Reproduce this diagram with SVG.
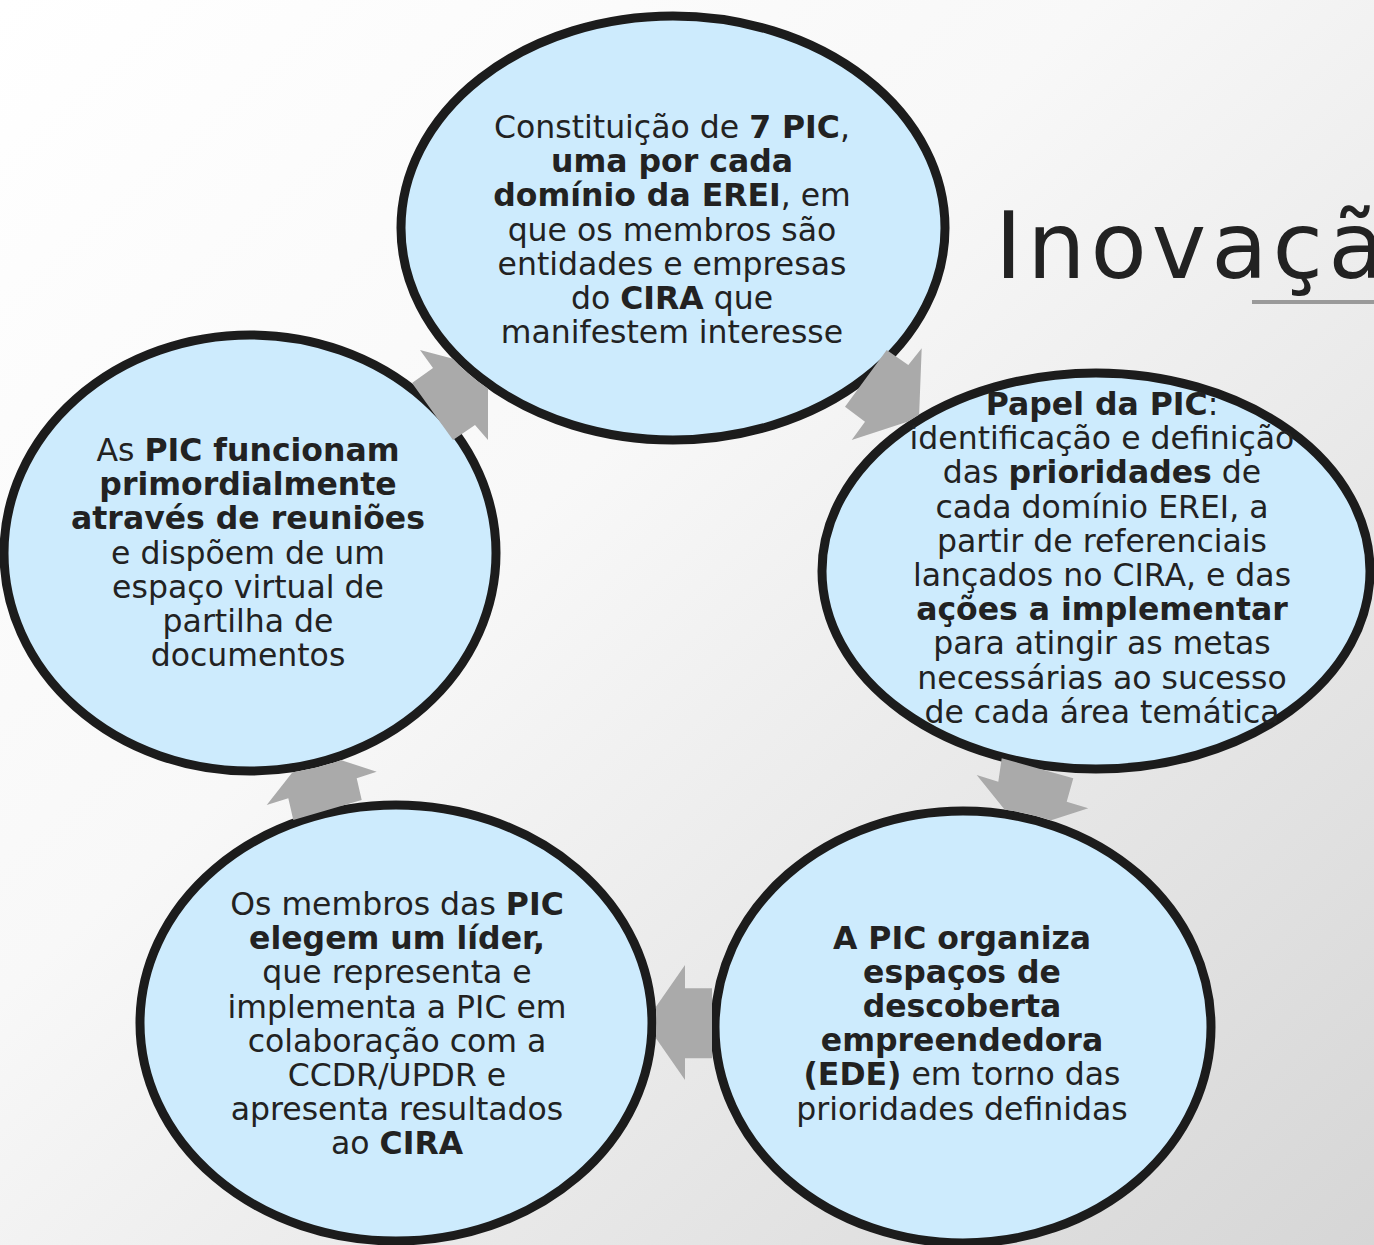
<svg xmlns="http://www.w3.org/2000/svg" width="1374" height="1245" viewBox="0 0 1374 1245">
<defs>
<linearGradient id="bg" x1="0" y1="0" x2="1" y2="1">
<stop offset="0" stop-color="#ffffff"/>
<stop offset="0.4" stop-color="#f8f8f8"/>
<stop offset="1" stop-color="#d6d6d6"/>
</linearGradient>
<clipPath id="cR"><path clip-rule="evenodd" d="M0,0H1374V1245H0Z M817.5,571 a278.5,202.5 0 1,0 557,0 a278.5,202.5 0 1,0 -557,0Z"/></clipPath>
<clipPath id="cBR"><path clip-rule="evenodd" d="M0,0H1374V1245H0Z M710.5,1027 a252.5,220.5 0 1,0 505,0 a252.5,220.5 0 1,0 -505,0Z"/></clipPath>
<clipPath id="cBL"><path clip-rule="evenodd" d="M0,0H1374V1245H0Z M135.5,1023 a260.5,222.5 0 1,0 521,0 a260.5,222.5 0 1,0 -521,0Z"/></clipPath>
<clipPath id="cL"><path clip-rule="evenodd" d="M0,0H1374V1245H0Z M-0.5,553 a250.5,222.5 0 1,0 501,0 a250.5,222.5 0 1,0 -501,0Z"/></clipPath>
<clipPath id="cT"><path clip-rule="evenodd" d="M0,0H1374V1245H0Z M396.5,228 a276.5,216.5 0 1,0 553,0 a276.5,216.5 0 1,0 -553,0Z"/></clipPath>
</defs>
<style>
.node ellipse{fill:#cdebfd;stroke:#1c1c1c;stroke-width:9}
.node text{font-family:"DejaVu Sans",Verdana,sans-serif;font-size:31.5px;fill:#222;text-anchor:middle}
.b{font-weight:bold}
.arr polygon{fill:#aaaaaa}
</style>
<rect width="1374" height="1245" fill="url(#bg)"/>
<g id="title">
<text x="995" y="278" font-family="DejaVu Sans,sans-serif" font-size="92" letter-spacing="5" fill="#222">Inovaçã</text>
<rect x="1252" y="300" width="122" height="4" fill="#9a9a9a"/>
</g>
<g id="n-top" class="node">
<ellipse cx="673" cy="228" rx="272" ry="212"/>
<text x="672" y="138">Constituição de <tspan class="b">7 PIC</tspan>,</text>
<text x="672" y="172.2" class="b">uma por cada</text>
<text x="672" y="206.4"><tspan class="b">domínio da EREI</tspan>, em</text>
<text x="672" y="240.6">que os membros são</text>
<text x="672" y="274.8">entidades e empresas</text>
<text x="672" y="309">do <tspan class="b">CIRA</tspan> que</text>
<text x="672" y="343.2">manifestem interesse</text>
</g>
<g id="n-right" class="node">
<ellipse cx="1096" cy="571" rx="274" ry="198"/>
<text x="1102" y="415"><tspan class="b">Papel da PIC</tspan>:</text>
<text x="1102" y="449.2">identificação e definição</text>
<text x="1102" y="483.4">das <tspan class="b">prioridades</tspan> de</text>
<text x="1102" y="517.6">cada domínio EREI, a</text>
<text x="1102" y="551.8">partir de referenciais</text>
<text x="1102" y="586">lançados no CIRA, e das</text>
<text x="1102" y="620.2" class="b">ações a implementar</text>
<text x="1102" y="654.4">para atingir as metas</text>
<text x="1102" y="688.6">necessárias ao sucesso</text>
<text x="1102" y="722.8">de cada área temática</text>
</g>
<g id="n-bottomright" class="node">
<ellipse cx="963" cy="1027" rx="248" ry="216"/>
<text x="962" y="948.5" class="b">A PIC organiza</text>
<text x="962" y="982.7" class="b">espaços de</text>
<text x="962" y="1016.9" class="b">descoberta</text>
<text x="962" y="1051.1" class="b">empreendedora</text>
<text x="962" y="1085.3"><tspan class="b">(EDE)</tspan> em torno das</text>
<text x="962" y="1119.5">prioridades definidas</text>
</g>
<g id="n-bottomleft" class="node">
<ellipse cx="396" cy="1023" rx="256" ry="218"/>
<text x="397" y="915">Os membros das <tspan class="b">PIC</tspan></text>
<text x="397" y="949.2" class="b">elegem um líder,</text>
<text x="397" y="983.4">que representa e</text>
<text x="397" y="1017.6">implementa a PIC em</text>
<text x="397" y="1051.8">colaboração com a</text>
<text x="397" y="1086">CCDR/UPDR e</text>
<text x="397" y="1120.2">apresenta resultados</text>
<text x="397" y="1154.4">ao <tspan class="b">CIRA</tspan></text>
</g>
<g id="n-left" class="node">
<ellipse cx="250" cy="553" rx="246" ry="218"/>
<text x="248" y="461">As <tspan class="b">PIC funcionam</tspan></text>
<text x="248" y="495.2" class="b">primordialmente</text>
<text x="248" y="529.4" class="b">através de reuniões</text>
<text x="248" y="563.6">e dispõem de um</text>
<text x="248" y="597.8">espaço virtual de</text>
<text x="248" y="632">partilha de</text>
<text x="248" y="666.2">documentos</text>
</g>
<g id="connectors" class="arr">
<polygon clip-path="url(#cT)" points="488,368 420,350 433,368 412,383 453,440 475,425 488,440"/>
<polygon clip-path="url(#cR)" points="919,418 921.7,348.3 908.3,365 886.7,350 845,406.7 865,421.7 851.7,440"/>
<polygon clip-path="url(#cBR)" points="1021,830 1088.3,808.3 1066.7,801.7 1073.3,778.3 1001.7,758.3 998.3,781.7 976.7,775"/>
<polygon clip-path="url(#cBL)" points="645,1022.5 685,965 685,988.3 712,988.3 712,1058.3 685,1058.3 685,1080"/>
<polygon clip-path="url(#cL)" points="310,750 266.7,805 288.3,798.3 293.3,820 361.7,800 356.7,778.3 376.7,771.7"/>
</g>
</svg>
